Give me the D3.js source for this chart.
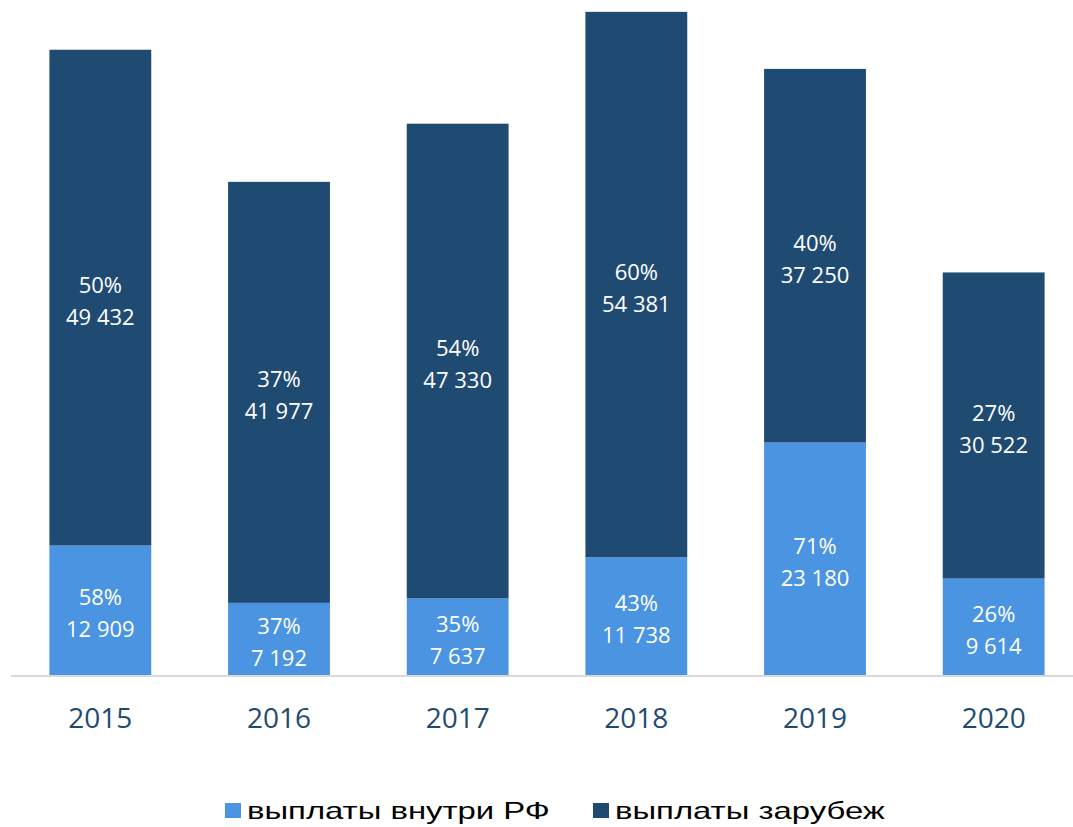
<!DOCTYPE html>
<html>
<head>
<meta charset="utf-8" />
<script src="https://d3js.org/d3.v7.min.js"></script>
<style>
  body { margin: 0; background: #fff; }
  .val { font-family: "Open Sans", "Lato", sans-serif; font-size: 22px; fill: #fff; }
  .year { font-family: "Open Sans", "Lato", sans-serif; font-size: 28px; fill: #1F4B73; }
  .legend { font-family: "Liberation Sans", Arial, sans-serif; font-size: 23px; fill: #000; }
</style>
</head>
<body>
<script>
// chart data
var years = ["2015", "2016", "2017", "2018", "2019", "2020"];
var inside = [12909, 7192, 7637, 11738, 23180, 9614];       // выплаты внутри РФ
var insidePct = ["58%", "37%", "35%", "43%", "71%", "26%"];
var abroad = [49432, 41977, 47330, 54381, 37250, 30522];    // выплаты зарубеж
var abroadPct = ["50%", "37%", "54%", "60%", "40%", "27%"];
var seriesNames = ["выплаты внутри РФ", "выплаты зарубеж"];

var width = 1073, height = 827;
var light = "#4A94E2", dark = "#1F4B73";

var svg = d3.select("body").append("svg")
    .attr("width", width)
    .attr("height", height);

var x = d3.scaleBand().domain(years).range([11, 1083]).paddingInner(0.43).paddingOuter(0.215);
var y = d3.scaleLinear().domain([0, 67300]).range([675, 0]);

var fmt = function(v) { return d3.format(",")(v).replace(/,/g, " "); };

var rows = years.map(function(yr, i) {
  return {year: yr, a: inside[i], ap: insidePct[i], b: abroad[i], bp: abroadPct[i]};
});
var cx = function(d) { return x(d.year) + x.bandwidth() / 2; };

// bars
var g = svg.selectAll(".bar").data(rows).enter().append("g").attr("class", "bar");

g.append("rect")
    .attr("x", function(d) { return x(d.year); })
    .attr("width", x.bandwidth())
    .attr("y", function(d) { return y(d.a); })
    .attr("height", function(d) { return y(0) - y(d.a); })
    .attr("fill", light);

g.append("rect")
    .attr("x", function(d) { return x(d.year); })
    .attr("width", x.bandwidth())
    .attr("y", function(d) { return y(d.a + d.b); })
    .attr("height", function(d) { return y(d.a) - y(d.a + d.b); })
    .attr("fill", dark);

// segment labels: pct on top line, value below
function label(sel, mid, pct, val) {
  sel.append("text").attr("class", "val").attr("text-anchor", "middle")
      .attr("x", cx).attr("y", function(d) { return mid(d) - 5; }).text(pct);
  sel.append("text").attr("class", "val").attr("text-anchor", "middle")
      .attr("x", cx).attr("y", function(d) { return mid(d) + 27; }).text(val);
}
label(g, function(d) { return (y(0) + y(d.a)) / 2; }, function(d) { return d.ap; }, function(d) { return fmt(d.a); });
label(g, function(d) { return (y(d.a) + y(d.a + d.b)) / 2; }, function(d) { return d.bp; }, function(d) { return fmt(d.b); });

// x axis
svg.append("line")
    .attr("x1", 11).attr("x2", width)
    .attr("y1", y(0) + 1).attr("y2", y(0) + 1)
    .attr("stroke", "#d9d9d9").attr("stroke-width", 2);

svg.selectAll(".year").data(years).enter().append("text")
    .attr("class", "year")
    .attr("text-anchor", "middle")
    .attr("x", function(d) { return x(d) + x.bandwidth() / 2; })
    .attr("y", 728)
    .text(function(d) { return d; });

// legend (text is stretched horizontally like the original)
var leg = svg.append("g");
var legX = [225, 593];
[light, dark].forEach(function(c, i) {
  leg.append("rect").attr("x", legX[i]).attr("y", 803).attr("width", 16).attr("height", 15).attr("fill", c);
  leg.append("text").attr("class", "legend")
      .attr("transform", "translate(" + (legX[i] + 22) + ",819) scale(1.43,1)")
      .text(seriesNames[i]);
});
</script>
</body>
</html>
